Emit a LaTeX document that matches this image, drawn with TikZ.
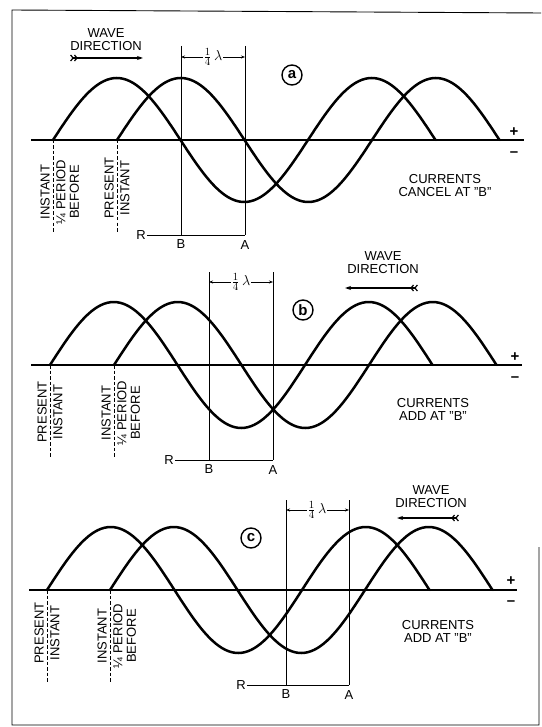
\documentclass[tikz,border=0pt]{standalone}
\usepackage{fontspec}
\setmainfont{Liberation Sans}
\usetikzlibrary{arrows.meta,positioning}
\tikzset{
  wave/.style={line width=2.5pt,line cap=round,line join=round},
  axisline/.style={line width=1.1pt},
  refline/.style={line width=0.9pt},
  instline/.style={line width=0.8pt,dash pattern=on 3.5pt off 2pt},
  dimarrow/.style={-{Stealth[length=4pt,width=3pt]},line width=0.7pt},
  dirarrow/.style={{Straight Barb[reversed,length=2.5pt,width=6pt] Straight Barb[reversed,length=2.5pt,width=6pt]}-{Stealth[length=6pt,width=4pt]},line width=1.2pt},
  lbl/.style={font=\fontsize{13}{13}\selectfont,inner sep=1pt,align=center},
  lamlbl/.style={font=\fontsize{15}{15}\selectfont,inner sep=1pt},
  vlbl/.style={font=\fontsize{13}{13.5}\selectfont,inner sep=3pt,align=center,rotate=90},
  tagcircle/.style={circle,draw,line width=1.4pt,inner sep=1pt,minimum size=20pt,
    font=\bfseries\fontsize{15}{15}\selectfont},
  signlbl/.style={font=\bfseries\fontsize{15}{15}\selectfont,inner sep=0pt}
}
\begin{document}
\begin{tikzpicture}[x=1pt,y=-1pt]
  \useasboundingbox (0,0) rectangle (541,727);
  % frame
  \draw[refline] (541,13) -- (12,10) -- (12,725) -- (539,725) -- (539,547);

  % ---- (a) ----
  \draw[axisline] (31,140) -- (524,140);
  \draw[wave] plot[domain=0:540,samples=121] ({53+0.70833*\x},{140-62*sin(\x)});
  \draw[wave] plot[domain=0:540,samples=121] ({117+0.70833*\x},{140-62*sin(\x)});
  \coordinate (aBtop) at (181,46);
  \coordinate (aBbot) at (181,235);
  \coordinate (aAtop) at (245,46);
  \coordinate (aAbot) at (245,235);
  \draw[refline] (aBtop) -- (aBbot);
  \draw[refline] (aAtop) -- (aAbot);
  \node[lbl] (aR) at (141,235) {R};
  \node[lbl,below=3pt of aBbot] (aB) {B};
  \node[lbl,below=4pt of aAbot] (aA) {A};
  \draw[refline] (aR) -- (aAbot);
  \node[lamlbl] (aLam) at (213,57) {$\frac{1}{4}\,\lambda$};
  \draw[dimarrow] (aLam.west) -- (aLam.west -| aBtop);
  \draw[dimarrow] (aLam.east) -- (aLam.east -| aAtop);
  \node[tagcircle] (aTag) at (292,75) {a};
  \node[lbl] (aDir) at (106,40) {WAVE\\DIRECTION};
  \coordinate (aDirTail) at (70,58);
  \coordinate (aDirHead) at (143,58);
  \draw[dirarrow] (aDirTail) -- (aDirHead);
  \node[lbl] (aCur) at (445,186) {CURRENTS\\CANCEL AT "B"};
  \node[signlbl] (aPlus) at (514,132) {+};
  \node[signlbl] (aMinus) at (514,154) {–};
  \coordinate (aPrevTop) at (53,140);
  \coordinate (aPrevBot) at (53,232);
  \coordinate (aNowTop) at (117,140);
  \coordinate (aNowBot) at (117,232);
  \draw[instline] (aPrevTop) -- (aPrevBot);
  \draw[instline] (aNowTop) -- (aNowBot);
  \node[vlbl,anchor=south] (aPrevL) at (53,192) {INSTANT};
  \node[vlbl,anchor=north] (aPrevR) at (53,192) {¼ PERIOD\\BEFORE};
  \node[vlbl,anchor=south] (aNowL) at (117,188) {PRESENT};
  \node[vlbl,anchor=north] (aNowR) at (117,188) {INSTANT};

  % ---- (b) ----
  \draw[axisline] (31,365) -- (522,365);
  \draw[wave] plot[domain=0:540,samples=121] ({50+0.70833*\x},{365-63*sin(\x)});
  \draw[wave] plot[domain=0:540,samples=121] ({114+0.70833*\x},{365-63*sin(\x)});
  \coordinate (bBtop) at (209,272);
  \coordinate (bBbot) at (209,460);
  \coordinate (bAtop) at (273,272);
  \coordinate (bAbot) at (273,460);
  \draw[refline] (bBtop) -- (bBbot);
  \draw[refline] (bAtop) -- (bAbot);
  \node[lbl] (bR) at (169,460) {R};
  \node[lbl,below=3pt of bBbot] (bB) {B};
  \node[lbl,below=4pt of bAbot] (bA) {A};
  \draw[refline] (bR) -- (bAbot);
  \node[lamlbl] (bLam) at (241,282) {$\frac{1}{4}\,\lambda$};
  \draw[dimarrow] (bLam.west) -- (bLam.west -| bBtop);
  \draw[dimarrow] (bLam.east) -- (bLam.east -| bAtop);
  \node[tagcircle] (bTag) at (303,310) {b};
  \node[lbl] (bDir) at (383,263) {WAVE\\DIRECTION};
  \coordinate (bDirTail) at (418,288);
  \coordinate (bDirHead) at (345,288);
  \draw[dirarrow] (bDirTail) -- (bDirHead);
  \node[lbl] (bCur) at (433,409) {CURRENTS\\ADD AT "B"};
  \node[signlbl] (bPlus) at (515,357) {+};
  \node[signlbl] (bMinus) at (515,379) {–};
  \coordinate (bNowTop) at (50,365);
  \coordinate (bNowBot) at (50,458);
  \coordinate (bPrevTop) at (114,365);
  \coordinate (bPrevBot) at (114,458);
  \draw[instline] (bNowTop) -- (bNowBot);
  \draw[instline] (bPrevTop) -- (bPrevBot);
  \node[vlbl,anchor=south] (bNowL) at (50,412) {PRESENT};
  \node[vlbl,anchor=north] (bNowR) at (50,412) {INSTANT};
  \node[vlbl,anchor=south] (bPrevL) at (114,413) {INSTANT};
  \node[vlbl,anchor=north] (bPrevR) at (114,413) {¼ PERIOD\\BEFORE};

  % ---- (c) ----
  \draw[axisline] (29,590) -- (517,590);
  \draw[wave] plot[domain=0:540,samples=121] ({47+0.70833*\x},{590-63*sin(\x)});
  \draw[wave] plot[domain=0:540,samples=121] ({110+0.70833*\x},{590-63*sin(\x)});
  \coordinate (cBtop) at (286,500);
  \coordinate (cBbot) at (286,685);
  \coordinate (cAtop) at (349,500);
  \coordinate (cAbot) at (349,685);
  \draw[refline] (cBtop) -- (cBbot);
  \draw[refline] (cAtop) -- (cAbot);
  \node[lbl] (cR) at (241,685) {R};
  \node[lbl,below=3pt of cBbot] (cB) {B};
  \node[lbl,below=4pt of cAbot] (cA) {A};
  \draw[refline] (cR) -- (cAbot);
  \node[lamlbl] (cLam) at (317,510) {$\frac{1}{4}\,\lambda$};
  \draw[dimarrow] (cLam.west) -- (cLam.west -| cBtop);
  \draw[dimarrow] (cLam.east) -- (cLam.east -| cAtop);
  \node[tagcircle] (cTag) at (251,538) {c};
  \node[lbl] (cDir) at (431,497) {WAVE\\DIRECTION};
  \coordinate (cDirTail) at (459,518);
  \coordinate (cDirHead) at (397,518);
  \draw[dirarrow] (cDirTail) -- (cDirHead);
  \node[lbl] (cCur) at (438,631) {CURRENTS\\ADD AT "B"};
  \node[signlbl] (cPlus) at (511,581) {+};
  \node[signlbl] (cMinus) at (511,603) {–};
  \coordinate (cNowTop) at (47,590);
  \coordinate (cNowBot) at (47,682);
  \coordinate (cPrevTop) at (110,590);
  \coordinate (cPrevBot) at (110,682);
  \draw[instline] (cNowTop) -- (cNowBot);
  \draw[instline] (cPrevTop) -- (cPrevBot);
  \node[vlbl,anchor=south] (cNowL) at (47,633) {PRESENT};
  \node[vlbl,anchor=north] (cNowR) at (47,633) {INSTANT};
  \node[vlbl,anchor=south] (cPrevL) at (110,636) {INSTANT};
  \node[vlbl,anchor=north] (cPrevR) at (110,636) {¼ PERIOD\\BEFORE};
\end{tikzpicture}
\end{document}
